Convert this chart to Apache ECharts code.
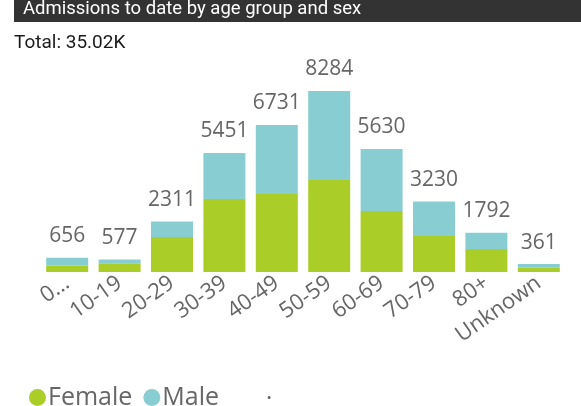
<!DOCTYPE html>
<html>
<head>
<meta charset="utf-8">
<script src="https://cdn.jsdelivr.net/npm/echarts@6/dist/echarts.min.js"></script>
<style>
html,body{margin:0;padding:0;background:#fff;}
#chart{width:581px;height:406px;}
</style>
</head>
<body>
<div id="chart"></div>
<script>
const categories = ['0…', '10-19', '20-29', '30-39', '40-49', '50-59', '60-69', '70-79', '80+', 'Unknown'];
const totals = [656, 577, 2311, 5451, 6731, 8284, 5630, 3230, 1792, 361];
const female = [290, 400, 1600, 3340, 3570, 4210, 2790, 1650, 1050, 200];
const male = [366, 177, 711, 2111, 3161, 4074, 2840, 1580, 742, 161];
const titleText = 'Admissions to date by age group and sex';
const totalText = 'Total: 35.02K';

const chart = echarts.init(document.getElementById('chart'));
const labelFont = '"Open Sans", "Noto Sans", sans-serif';
chart.setOption({
  animation: false,
  backgroundColor: '#ffffff',
  grid: { left: 41, right: 16, top: 91, bottom: 134, containLabel: false },
  xAxis: {
    type: 'category',
    data: categories,
    axisLine: { show: false },
    axisTick: { show: false },
    axisLabel: { rotate: 35, margin: 9, color: '#666666', fontSize: 22, fontFamily: labelFont, interval: 0 }
  },
  yAxis: { type: 'value', min: 0, max: 'dataMax', show: false, splitLine: { show: false } },
  legend: {
    data: ['Female', 'Male'],
    left: 24, top: 380,
    icon: 'circle', itemWidth: 17, itemHeight: 17, itemGap: 11,
    textStyle: { color: '#666666', fontSize: 25, fontFamily: labelFont, padding: [0, 0, 0, -3] }
  },
  series: [
    { name: 'Female', type: 'bar', stack: 's', data: female, barWidth: 42, itemStyle: { color: '#abcd28' } },
    { name: 'Male', type: 'bar', stack: 's', data: male, barWidth: 42, itemStyle: { color: '#88cdd1' },
      label: { show: true, position: 'top', distance: 11, color: '#666666', fontSize: 21, fontFamily: labelFont,
        formatter: p => String(totals[p.dataIndex]) } }
  ],
  graphic: [
    { type: 'rect', shape: { x: 14, y: 0, width: 567, height: 22 }, style: { fill: '#333333' } },
    { type: 'text', left: 23, top: 0, style: { text: titleText, fill: '#ffffff', font: '18.5px Roboto, sans-serif' } },
    { type: 'text', left: 14, top: 34, style: { text: totalText, fill: '#1a1a1a', font: '19px Roboto, sans-serif' } },
    { type: 'text', left: 266, top: 380, style: { text: '.', fill: '#666666', font: '24px "Open Sans", sans-serif' } }
  ]
});
</script>
</body>
</html>
